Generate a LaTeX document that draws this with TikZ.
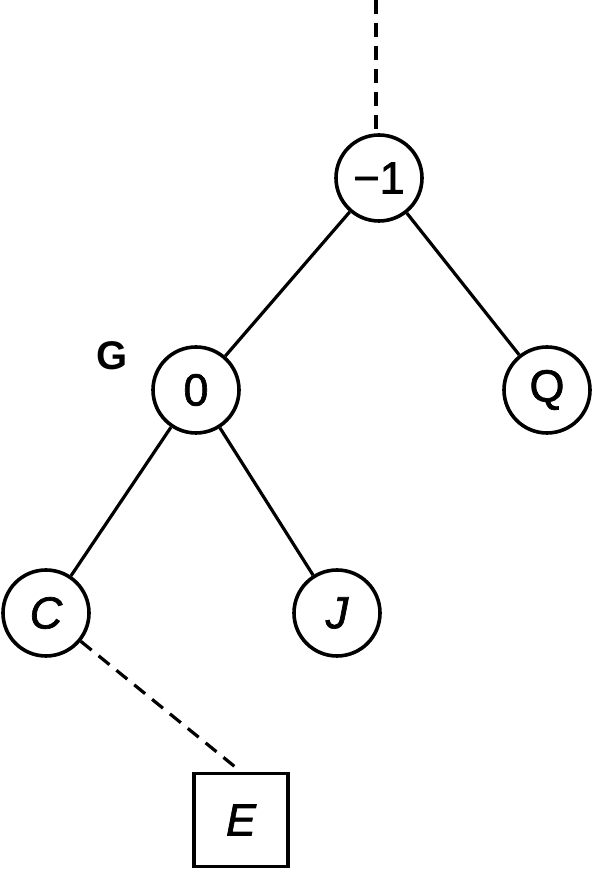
\documentclass[tikz,border=0pt]{standalone}
\usepackage{fontspec}
\setmainfont{Liberation Sans}
\newfontfamily\lblfont[FakeBold=1.5]{Liberation Sans}
\begin{document}
\begin{tikzpicture}[x=1pt,y=1pt,
  vnode/.style={circle,draw,line width=3.6pt,minimum size=86pt,inner sep=0pt,font=\lblfont\fontsize{45}{45}\selectfont},
  leafbox/.style={rectangle,draw,line width=3.6pt,minimum width=94pt,minimum height=93pt,inner sep=0pt,font=\lblfont\fontsize{45}{45}\selectfont},
  edge/.style={line width=3.2pt},
  dedge/.style={line width=3.2pt,dash pattern=on 14pt off 9pt}]
\useasboundingbox (0,0) rectangle (596,873);
\node[vnode] (t) at (379,695) {−1};
\node[vnode] (g) at (196,483) {0};
\node[vnode] (q) at (547,483) {Q};
\node[vnode] (c) at (46,260) {\itshape C};
\node[vnode] (j) at (337,260) {\itshape J};
\node[leafbox] (e) at (241,53) {\itshape E};
\node[font=\bfseries\fontsize{40}{40}\selectfont] (gl) at (112,517) {G};
\coordinate (top) at (376,873);
\draw[dedge] (top) -- (top |- t.north);
\draw[edge] (t) -- (g);
\draw[edge] (t) -- (q);
\draw[edge] (g) -- (c);
\draw[edge] (g) -- (j);
\draw[dedge] (c) -- (e.north);
\end{tikzpicture}
\end{document}
